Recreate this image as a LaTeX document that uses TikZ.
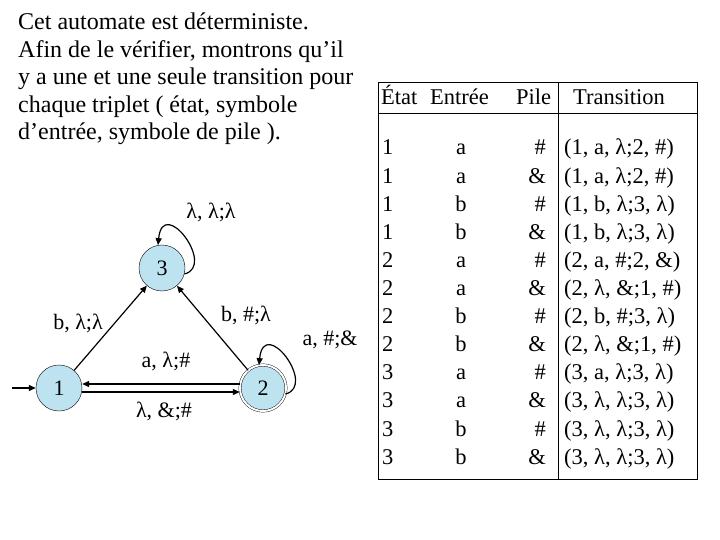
\documentclass[tikz,border=0pt]{standalone}
\usepackage{fontspec}
\setmainfont{Liberation Serif}
\usetikzlibrary{arrows.meta}
\begin{document}
\begin{tikzpicture}[x=1pt,y=-1pt,
  st/.style={circle,draw,fill=cyan!25!white!90!gray,minimum size=46pt,inner sep=0pt,font=\fontsize{22}{24}\selectfont},
  lbl/.style={font=\fontsize{22}{24}\selectfont,inner sep=1pt},
  tx/.style={font=\fontsize{22.5}{24}\selectfont,inner sep=0pt,anchor=base},
  ed/.style={-{Triangle[length=7pt,width=6pt]},line width=1.2pt}]
\useasboundingbox (0,0) rectangle (720,540);
\node[anchor=north west,align=left,inner sep=0pt,font=\fontsize{24}{27.5}\selectfont] (intro) at (18,13)
 {Cet automate est déterministe.\\Afin de le vérifier, montrons qu’il\\y a une et une seule transition pour\\chaque triplet ( état, symbole\\d’entrée, symbole de pile ).};
\node[st] (s3) at (162,268) {3};
\node[st] (s1) at (59,388) {1};
\node[st,double,double distance=2pt] (s2) at (263,388) {2};
\coordinate (init) at (12,388);
\draw[ed] (init) -- (s1);
\draw[ed] (s1) -- (s3);
\draw[ed] (s2) -- (s3);
\draw[ed] ([yshift=-4pt]s1.east) -- ([yshift=-4pt]s2.west);
\draw[ed] ([yshift=4pt]s2.west) -- ([yshift=4pt]s1.east);
\draw[ed] (s3.-15) .. controls +(32,-8) and +(5,-50) .. (s3.100);
\draw[ed] (s2.-15) .. controls +(32,-8) and +(5,-50) .. (s2.100);
\node[lbl] (l1) at (211,212) {λ, λ;λ};
\node[lbl] (l2) at (78,323) {b, λ;λ};
\node[lbl] (l3) at (246,315) {b, \#;λ};
\node[lbl] (l4) at (330,340) {a, \#;\&};
\node[lbl] (l5) at (166,361) {a, λ;\#};
\node[lbl] (l6) at (164,411) {λ, \&;\#};
% table
\draw[line width=0.8pt] (378,82) rectangle (697,479);
\draw[line width=0.8pt] (378,113) -- (697,113);
\draw[line width=0.8pt] (558,82) -- (558,479);
\node[tx,anchor=base west] (h1) at (381,105) {État};
\node[tx,anchor=base west] (h2) at (430,105) {Entrée};
\node[tx,anchor=base west] (h3) at (516,105) {Pile};
\node[tx,anchor=base west] (h4) at (573,105) {Transition};
\foreach \i/\e/\n/\p/\t in {0/1/a/\#/{(1, a, λ;2, \#)},1/1/a/\&/{(1, a, λ;2, \#)},2/1/b/\#/{(1, b, λ;3, λ)},3/1/b/\&/{(1, b, λ;3, λ)},4/2/a/\#/{(2, a, \#;2, \&)},5/2/a/\&/{(2, λ, \&;1, \#)},6/2/b/\#/{(2, b, \#;3, λ)},7/2/b/\&/{(2, λ, \&;1, \#)},8/3/a/\#/{(3, a, λ;3, λ)},9/3/a/\&/{(3, λ, λ;3, λ)},10/3/b/\#/{(3, λ, λ;3, λ)},11/3/b/\&/{(3, λ, λ;3, λ)}}{
  \node[tx,anchor=base west] (e\i) at (382,155+28.1*\i) {\e};
  \node[tx] (n\i) at (461,155+28.1*\i) {\n};
  \node[tx,anchor=base east] (p\i) at (546,155+28.1*\i) {\p};
  \node[tx,anchor=base west] (t\i) at (564,155+28.1*\i) {\t};
}
\end{tikzpicture}
\end{document}
